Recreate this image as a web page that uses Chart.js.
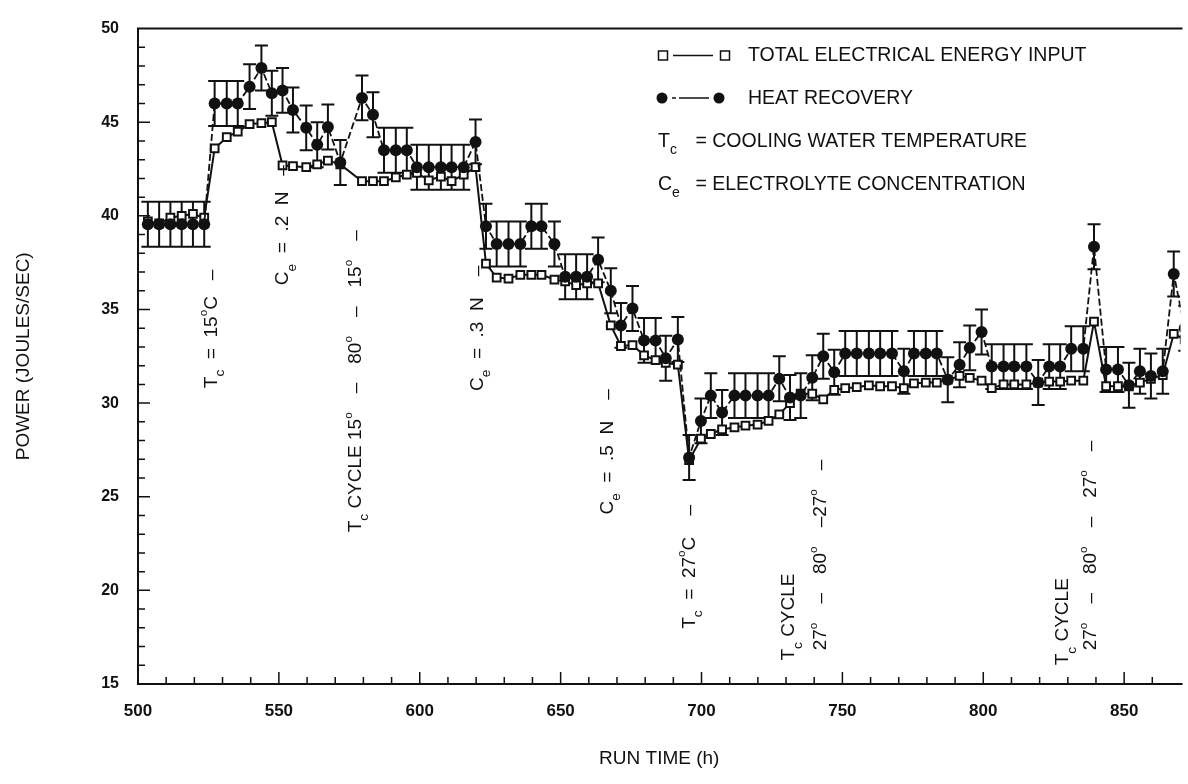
<!DOCTYPE html>
<html>
<head>
<meta charset="utf-8">
<script src="https://cdn.jsdelivr.net/npm/chart.js@4.4.1/dist/chart.umd.min.js"></script>
<style>
html, body { margin: 0; padding: 0; background: #fff; }
#wrap { width: 1188px; height: 784px; }
</style>
</head>
<body>
<div id="wrap"><canvas id="powerChart"></canvas></div>
<script>
// run time (h) of each measurement
var RUN_TIME = [
    503.5, 507.5, 511.5, 515.5, 519.5, 523.5,
    527.2, 531.5, 535.4, 539.6, 543.8, 547.5, 551.3, 555.0, 559.7, 563.6, 567.4, 571.8,
    579.5, 583.4, 587.3, 591.5, 595.4, 599.0, 603.2, 607.5, 611.3, 615.6, 619.8,
    623.5, 627.3, 631.5, 635.7, 639.6, 643.2, 647.8, 651.6, 655.5, 659.4, 663.3,
    667.8, 671.4, 675.5, 679.6, 683.7, 687.3, 691.6, 695.6,
    699.8, 703.3, 707.3, 711.7, 715.6, 719.9, 723.8, 727.6, 731.4, 735.2, 739.3,
    743.2, 747.1, 751.0, 755.1, 759.4, 763.4, 767.6, 771.8, 775.4, 779.6, 783.5,
    787.4, 791.6, 795.2, 799.4, 803.0, 807.2, 811.0, 815.3, 819.5, 823.4, 827.3,
    831.2, 835.5, 839.3, 843.6, 847.8, 851.7, 855.6, 859.5, 863.7, 867.6, 871.5
];

// total electrical energy input (J/s)
var ELECTRICAL_INPUT = [
    39.7, 39.6, 39.9, 40.0, 40.1, 39.9,
    43.6, 44.2, 44.5, 44.9, 44.95, 45.0, 42.7, 42.65, 42.6, 42.75, 42.95, 42.75,
    41.85, 41.85, 41.85, 42.05, 42.2, 42.3, 41.9, 42.1, 41.85, 42.2, 42.6,
    37.45, 36.7, 36.65, 36.85, 36.85, 36.85, 36.6, 36.5, 36.3, 36.4, 36.4,
    34.15, 33.05, 33.1, 32.55, 32.3, 32.15, 32.05, 26.95,
    28.1, 28.35, 28.6, 28.7, 28.8, 28.85, 29.05, 29.4, 30.0, 30.5, 30.5,
    30.2, 30.7, 30.8, 30.85, 30.95, 30.9, 30.9, 30.8, 31.05, 31.1, 31.1,
    31.25, 31.45, 31.35, 31.2, 30.8, 31.0, 31.0, 31.0, 31.1, 31.15, 31.15,
    31.2, 31.2, 34.35, 30.9, 30.9, 30.9, 31.1, 31.3, 31.5, 33.7, 33.4
];

// heat recovery (J/s)
var HEAT_RECOVERY = [
    39.55, 39.55, 39.55, 39.55, 39.55, 39.55,
    46.0, 46.0, 46.0, 46.9, 47.9, 46.55, 46.7, 45.65, 44.7, 43.8, 44.75, 42.85,
    46.3, 45.4, 43.5, 43.5, 43.5, 42.6, 42.6, 42.6, 42.6, 42.6, 43.95,
    39.45, 38.5, 38.5, 38.5, 39.45, 39.45, 38.5, 36.75, 36.75, 36.75, 37.65,
    36.0, 34.15, 35.05, 33.35, 33.35, 32.4, 33.4, 27.1,
    29.05, 30.4, 29.5, 30.4, 30.4, 30.4, 30.4, 31.3, 30.3, 30.4, 31.35,
    32.5, 31.65, 32.65, 32.65, 32.65, 32.65, 32.65, 31.7, 32.65, 32.65, 32.65,
    31.25, 32.05, 32.95, 33.8, 31.95, 31.95, 31.95, 31.95, 31.1, 31.95, 31.95,
    32.9, 32.9, 38.35, 31.8, 31.8, 30.95, 31.7, 31.45, 31.7, 36.9, 34.0
];

// half height of the error bar on each heat recovery point (J/s)
var HEAT_ERROR = 1.2;

var X_MIN = 500, X_MAX = 870, X_STEP = 50;
var Y_MIN = 15, Y_MAX = 50, Y_STEP = 5;

var LEGEND_TEXT = [
    'TOTAL ELECTRICAL ENERGY INPUT',
    'HEAT RECOVERY',
    ' = COOLING WATER TEMPERATURE',
    ' = ELECTROLYTE CONCENTRATION'
];

// rotated notes on the plot: [run time, power at the start of the text], pieces (0 normal, 1 subscript, 2 superscript)
var D = '\u2013';
var G = '\u2002\u2002';
var EVENT_NOTES = [
    { at: [525.5, 30.8], parts: [['T', 0], ['c', 1], ['  =  15', 0], ['o', 2], ['C   ' + D, 0]] },
    { at: [550.9, 36.3], parts: [['C', 0], ['e', 1], ['  =  .2  N   ' + D, 0]] },
    { at: [576.7, 23.1], parts: [['T', 0], ['c', 1], [' CYCLE 15', 0], ['o', 2], [G + D + G + '80', 0], ['o', 2], [G + D + G + '15', 0], ['o', 2], [G + D, 0]] },
    { at: [619.8, 30.65], parts: [['C', 0], ['e', 1], ['  =  .3  N    ' + D, 0]] },
    { at: [666.1, 24.05], parts: [['C', 0], ['e', 1], ['  =  .5  N    ' + D, 0]] },
    { at: [695.1, 17.95], parts: [['T', 0], ['c', 1], ['  =  27', 0], ['o', 2], ['C    ' + D, 0]] },
    { at: [730.5, 16.25], parts: [['T', 0], ['c', 1], [' CYCLE', 0]] },
    { at: [741.8, 16.8], parts: [['27', 0], ['o', 2], [G + D + G + '80', 0], ['o', 2], [G + D + '27', 0], ['o', 2], [G + D, 0]] },
    { at: [827.7, 16.0], parts: [['T', 0], ['c', 1], [' CYCLE', 0]] },
    { at: [837.6, 16.8], parts: [['27', 0], ['o', 2], [G + D + G + '80', 0], ['o', 2], [G + D + G + '27', 0], ['o', 2], [G + D, 0]] }
];

var FONT = '"Liberation Sans", Arial, sans-serif';
var INK = '#111';

function drawRich(ctx, parts, size) {
    var x = 0;
    parts.forEach(function (p) {
        var s = size, dy = 0;
        if (p[1] == 1) { s = size * 0.72; dy = size * 0.38; }
        if (p[1] == 2) { s = size * 0.62; dy = -size * 0.5; }
        ctx.font = s + 'px ' + FONT;
        ctx.fillText(p[0], x, dy);
        x += ctx.measureText(p[0]).width;
    });
    return x;
}

var frameAndTicks = {
    id: 'frameAndTicks',
    afterDraw: function (chart) {
        var ctx = chart.ctx, a = chart.chartArea;
        var xs = chart.scales.x, ys = chart.scales.y;
        ctx.save();
        ctx.strokeStyle = INK;
        ctx.lineWidth = 2;
        ctx.beginPath();
        ctx.moveTo(a.right + 2, a.top);
        ctx.lineTo(a.left, a.top);
        ctx.lineTo(a.left, a.bottom);
        ctx.lineTo(a.right + 2, a.bottom);
        ctx.stroke();
        ctx.lineWidth = 1.5;
        ctx.beginPath();
        for (var v = Y_MIN + 1; v < Y_MAX; v++) {
            var py = ys.getPixelForValue(v);
            var len = (v % Y_STEP == 0) ? 12 : 7;
            ctx.moveTo(a.left, py);
            ctx.lineTo(a.left + len, py);
        }
        for (var t = X_MIN + 10; t < X_MAX; t += 10) {
            var px = xs.getPixelForValue(t);
            var lx = (t % X_STEP == 0) ? 12 : 7;
            ctx.moveTo(px, a.bottom);
            ctx.lineTo(px, a.bottom - lx);
        }
        ctx.stroke();
        ctx.restore();
    }
};

var errorBars = {
    id: 'errorBars',
    beforeDatasetsDraw: function (chart) {
        var ctx = chart.ctx, a = chart.chartArea;
        var xs = chart.scales.x, ys = chart.scales.y;
        ctx.save();
        ctx.beginPath();
        ctx.rect(a.left, a.top, a.right - a.left, a.bottom - a.top);
        ctx.clip();
        ctx.strokeStyle = INK;
        ctx.lineWidth = 2;
        ctx.beginPath();
        for (var i = 0; i < RUN_TIME.length; i++) {
            var px = xs.getPixelForValue(RUN_TIME[i]);
            var top = ys.getPixelForValue(HEAT_RECOVERY[i] + HEAT_ERROR);
            var bot = ys.getPixelForValue(HEAT_RECOVERY[i] - HEAT_ERROR);
            ctx.moveTo(px, top); ctx.lineTo(px, bot);
            ctx.moveTo(px - 6.5, top); ctx.lineTo(px + 6.5, top);
            ctx.moveTo(px - 6.5, bot); ctx.lineTo(px + 6.5, bot);
        }
        ctx.stroke();
        ctx.restore();
    }
};

var notesAndLegend = {
    id: 'notesAndLegend',
    afterDraw: function (chart) {
        var ctx = chart.ctx;
        var xs = chart.scales.x, ys = chart.scales.y;
        ctx.save();
        ctx.fillStyle = INK;
        ctx.strokeStyle = INK;
        ctx.textBaseline = 'alphabetic';

        // rotated notes, read from bottom to top
        EVENT_NOTES.forEach(function (n) {
            var cx = xs.getPixelForValue(n.at[0]);
            var by = ys.getPixelForValue(n.at[1]);
            ctx.save();
            ctx.translate(cx + 7, by);
            ctx.rotate(-Math.PI / 2);
            drawRich(ctx, n.parts, 19);
            ctx.restore();
        });

        // legend box in the upper right
        var lx = 663, tx = 748;
        var rows = [61, 104, 147, 190];
        ctx.lineWidth = 1.5;
        ctx.fillStyle = '#fff';
        ctx.strokeRect(lx - 4.5, rows[0] - 10, 9, 9);
        ctx.strokeRect(725 - 4.5, rows[0] - 10, 9, 9);
        ctx.beginPath();
        ctx.moveTo(673, rows[0] - 5.5); ctx.lineTo(713, rows[0] - 5.5);
        ctx.stroke();
        ctx.fillStyle = INK;
        ctx.beginPath(); ctx.arc(lx - 1, rows[1] - 6, 5.5, 0, Math.PI * 2); ctx.fill();
        ctx.beginPath(); ctx.arc(719, rows[1] - 6, 5.5, 0, Math.PI * 2); ctx.fill();
        ctx.setLineDash([4, 3, 30, 3]);
        ctx.beginPath();
        ctx.moveTo(672, rows[1] - 6); ctx.lineTo(712, rows[1] - 6);
        ctx.stroke();
        ctx.setLineDash([]);

        ctx.font = '19.5px ' + FONT;
        ctx.fillText(LEGEND_TEXT[0], tx, rows[0]);
        ctx.fillText(LEGEND_TEXT[1], tx, rows[1]);
        ctx.save();
        ctx.translate(lx - 5, rows[2]);
        drawRich(ctx, [['T', 0], ['c', 1]], 19.5);
        ctx.restore();
        ctx.font = '19.5px ' + FONT;
        ctx.fillText(LEGEND_TEXT[2], 690, rows[2]);
        ctx.save();
        ctx.translate(lx - 5, rows[3]);
        drawRich(ctx, [['C', 0], ['e', 1]], 19.5);
        ctx.restore();
        ctx.font = '19.5px ' + FONT;
        ctx.fillText(LEGEND_TEXT[3], 690, rows[3]);
        ctx.restore();
    }
};

function toPoints(values) {
    return values.map(function (v, i) { return { x: RUN_TIME[i], y: v }; });
}

var chartConfig = {
    type: 'line',
    data: {
        datasets: [{
            label: 'HEAT RECOVERY',
            data: toPoints(HEAT_RECOVERY),
            borderColor: INK,
            borderWidth: 1.8,
            borderDash: [7, 3],
            backgroundColor: INK,
            pointStyle: 'circle',
            pointRadius: 6,
            pointBorderWidth: 0,
            tension: 0,
            order: 0
        }, {
            label: 'TOTAL ELECTRICAL ENERGY INPUT',
            data: toPoints(ELECTRICAL_INPUT),
            borderColor: INK,
            borderWidth: 2,
            backgroundColor: '#fff',
            pointStyle: 'rect',
            pointRadius: 5.5,
            pointBorderWidth: 2,
            tension: 0,
            order: 1
        }]
    },
    options: {
        responsive: true,
        maintainAspectRatio: false,
        animation: false,
        layout: { padding: { top: 23, right: 2, left: 0, bottom: 0 } },
        plugins: {
            legend: { display: false },
            tooltip: { enabled: false }
        },
        scales: {
            x: {
                type: 'linear',
                min: X_MIN,
                max: X_MAX,
                grid: { display: false, drawTicks: false },
                border: { display: false },
                ticks: {
                    stepSize: X_STEP,
                    includeBounds: false,
                    padding: 17,
                    color: INK,
                    font: { family: FONT, size: 17, weight: 'bold' }
                },
                title: {
                    display: true,
                    text: 'RUN TIME (h)',
                    color: INK,
                    font: { family: FONT, size: 19 },
                    padding: { top: 14, bottom: 14 }
                },
                afterFit: function (s) { s.height = 100; }
            },
            y: {
                min: Y_MIN,
                max: Y_MAX,
                grid: { display: false, drawTicks: false },
                border: { display: false },
                ticks: {
                    stepSize: Y_STEP,
                    padding: 19,
                    color: INK,
                    font: { family: FONT, size: 16, weight: 'bold' }
                },
                title: {
                    display: true,
                    text: 'POWER (JOULES/SEC)',
                    color: INK,
                    font: { family: FONT, size: 19 },
                    padding: { top: 12, bottom: 0 }
                },
                afterFit: function (s) { s.width = 138; }
            }
        }
    },
    plugins: [errorBars, frameAndTicks, notesAndLegend]
};

var powerChart = new Chart(document.getElementById('powerChart'), chartConfig);
</script>
</body>
</html>
